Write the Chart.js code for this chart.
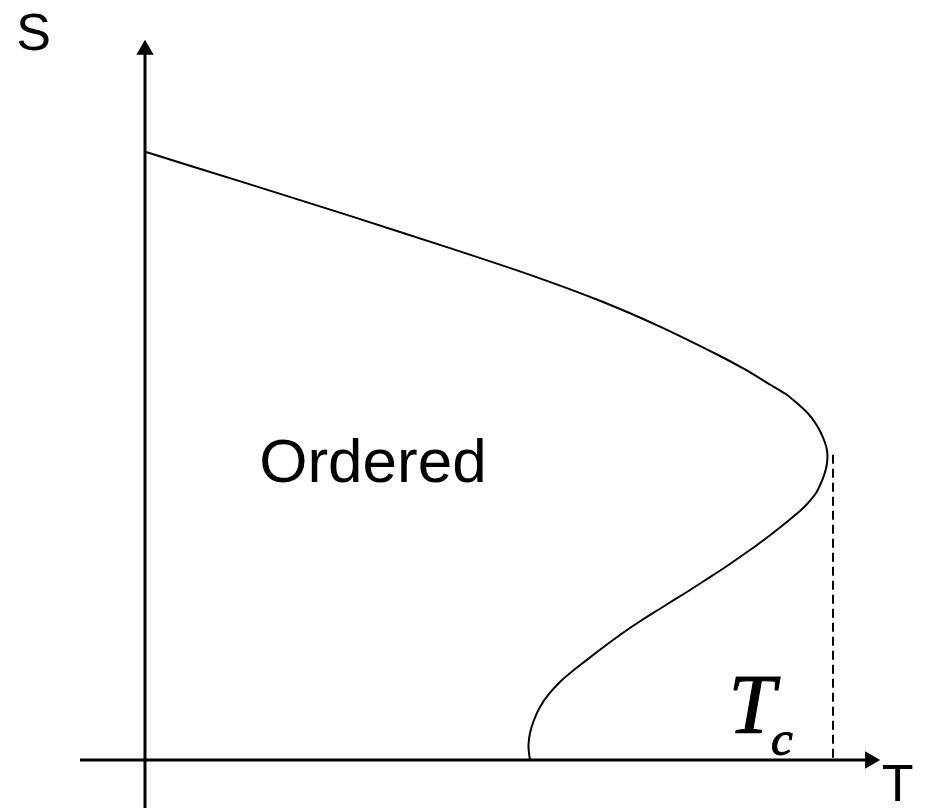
<!DOCTYPE html>
<html>
<head>
<meta charset="utf-8">
<script src="https://cdn.jsdelivr.net/npm/chart.js@4/dist/chart.umd.min.js"></script>
<style>
body{margin:0;background:#fff;}
canvas{display:block;}
</style>
</head>
<body>
<canvas id="mycanvas" width="928" height="809"></canvas>
<script>
// S(T) curve, T in units of Tc, S in units of S(0)
var curveT=[0.0015,0.1526,0.2980,0.4433,0.5596,0.6613,0.7485,0.8358,0.8721,0.9084,0.9302,0.9491,0.9637,0.9738,0.9811,0.9869,0.9906,0.9920,
	0.9906,0.9876,0.9826,0.9753,0.9637,0.9520,0.9346,0.9128,0.8895,0.8648,0.8416,0.8169,0.7922,0.7689,0.7456,0.7224,0.7006,0.6788,0.6584,0.6395,0.6206,0.6032,0.5872,0.5741,0.5654,0.5596,0.5574,0.5581,0.5596];
var curveS=[1.0000,0.9467,0.8949,0.8419,0.7979,0.7553,0.7128,0.6645,0.6423,0.6176,0.6028,0.5855,0.5699,0.5551,0.5411,0.5263,0.5132,0.5000,
	0.4836,0.4704,0.4556,0.4391,0.4227,0.4095,0.3931,0.3734,0.3536,0.3339,0.3158,0.2977,0.2796,0.2632,0.2467,0.2303,0.2138,0.1961,0.1788,0.1622,0.1454,0.1283,0.1086,0.0872,0.0658,0.0444,0.0247,0.0115,0.0000];
var tcT=[1.0,1.0];
var tcS=[0.502,0];
var xAxisT=[-0.0945,1.054];
var yAxisS=[-0.079,1.168];

function pts(xs,ys){
	var out=[];
	for(var i in xs){out.push({x:xs[i],y:ys[i]});}
	return out;
}

var labels={
	id:'labels',
	afterDraw:function(chart){
		var c=chart.ctx, x=chart.scales.x, y=chart.scales.y;
		c.save();
		c.fillStyle='#000';
		c.strokeStyle='#000';
		c.textBaseline='alphabetic';
		c.textAlign='left';
		c.font='52px "Liberation Sans", Arial, sans-serif';
		c.fillText('S',x.getPixelForValue(-0.187),y.getPixelForValue(1.168));
		c.fillText('T',x.getPixelForValue(1.071),y.getPixelForValue(-0.067));
		c.font='62px "Liberation Sans", Arial, sans-serif';
		c.fillText('Ordered',x.getPixelForValue(0.166),y.getPixelForValue(0.457));
		// Tc, a little heavier than the plain italic
		c.lineWidth=1.1;
		c.font='italic 84px "Liberation Serif", "Times New Roman", serif';
		var tx=x.getPixelForValue(0.848), ty=y.getPixelForValue(0.044);
		c.fillText('T',tx,ty);
		c.strokeText('T',tx,ty);
		c.font='italic 49px "Liberation Serif", "Times New Roman", serif';
		tx=x.getPixelForValue(0.910); ty=y.getPixelForValue(0.008);
		c.fillText('c',tx,ty);
		c.strokeText('c',tx,ty);
		c.restore();
	}
};

var chartdata={
	datasets:[
	{
		data:pts(curveT,curveS),
		borderColor:'#000',
		borderWidth:2,
		tension:0.25,
		pointRadius:0
	},
	{
		data:pts(tcT,tcS),
		borderColor:'#000',
		borderWidth:2,
		borderDash:[9,5],
		pointRadius:0
	},
	{
		data:pts(xAxisT,[0,0]),
		borderColor:'#000',
		borderWidth:3,
		pointStyle:'triangle',
		pointRotation:90,
		pointRadius:[0,10],
		pointBackgroundColor:'#000',
		pointBorderWidth:0
	},
	{
		data:pts([0,0],yAxisS),
		borderColor:'#000',
		borderWidth:3,
		pointStyle:'triangle',
		pointRotation:0,
		pointRadius:[0,10],
		pointBackgroundColor:'#000',
		pointBorderWidth:0
	}
	]
};

var ctx=document.getElementById('mycanvas');
var chart=new Chart(ctx,{
	type:'scatter',
	data:chartdata,
	options:{
		responsive:false,
		animation:false,
		showLine:true,
		clip:false,
		layout:{padding:0,autoPadding:false},
		plugins:{legend:{display:false},tooltip:{enabled:false}},
		scales:{
			x:{type:'linear',display:false,min:-145/688,max:783/688},
			y:{type:'linear',display:false,min:-49/608,max:760/608}
		}
	},
	plugins:[labels]
});
</script>
</body>
</html>
